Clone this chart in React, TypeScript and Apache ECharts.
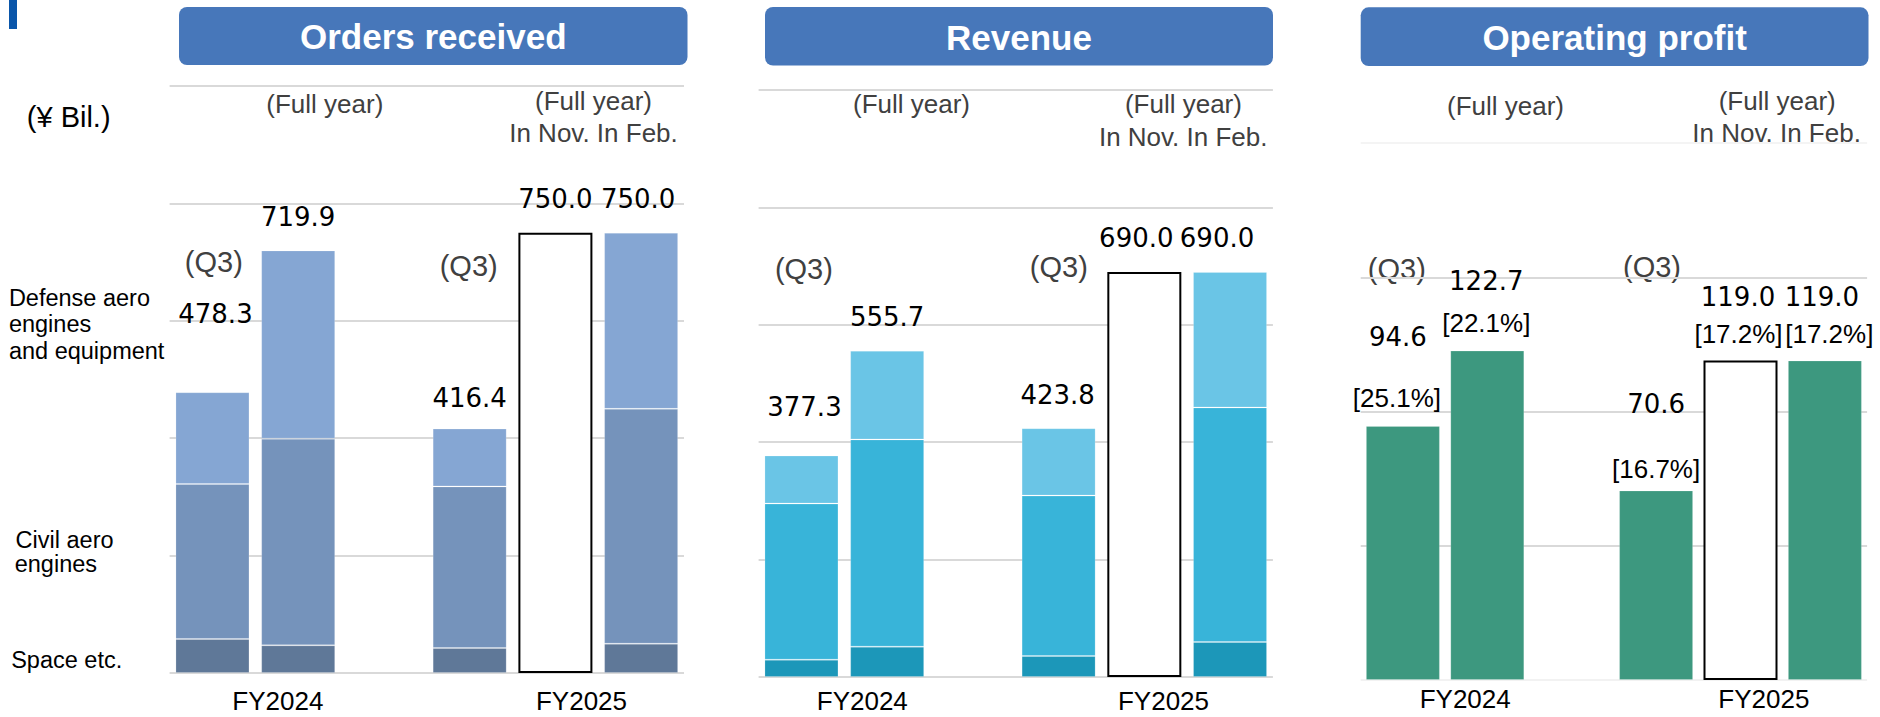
import React, { useEffect, useRef } from 'react';
import * as echarts from 'echarts';

// ---------- data ----------
const slots = ['FY2024 Q3', 'FY2024 Full year', '', 'FY2025 Q3', 'FY2025 Forecast (Nov.)', 'FY2025 Forecast (Feb.)'];
const fiscalYears = ['FY2024', 'FY2025'];
const panelTitles = ['Orders received', 'Revenue', 'Operating profit'];
const unitLabel = '(¥ Bil.)';
const fullYearText = '(Full year)';
const forecastHeaderText = 'In Nov. In Feb.';
const q3Text = '(Q3)';
const segmentLabelLines = [['Defense aero', 'engines', 'and equipment'], ['Civil aero', 'engines'], ['Space etc.']];

// Orders received (¥ Bil.)
const ordersSpace = [58.0, 47.2, null, 42.6, null, 50.0];
const ordersCivil = [264.0, 352.0, null, 275.3, null, 400.0];
const ordersDefense = [156.3, 320.7, null, 98.5, null, 300.0];
const ordersNovForecast = [null, null, null, null, 750.0, null];
const ordersTotal = [478.3, 719.9, null, 416.4, 750.0, 750.0];

// Revenue (¥ Bil.)
const revenueSpace = [29.5, 51.7, null, 35.8, null, 59.7];
const revenueCivil = [266.0, 353.0, null, 273.3, null, 399.5];
const revenueDefense = [81.8, 151.0, null, 114.7, null, 230.8];
const revenueNovForecast = [null, null, null, null, 690.0, null];
const revenueTotal = [377.3, 555.7, null, 423.8, 690.0, 690.0];

// Operating profit (¥ Bil.) and margin
const profitActual = [94.6, 122.7, null, 70.6, null, 119.0];
const profitNovForecast = [null, null, null, null, 119.0, null];
const profitTotal = [94.6, 122.7, null, 70.6, 119.0, 119.0];
const profitMargin = ['25.1%', '22.1%', null, '16.7%', '17.2%', '17.2%'];

const yMax = [1000, 1000, 200];
const yStep = [200, 200, 50];

// ---------- layout / style ----------
const GRIDS = [
  { left: 169.6, top: 86, width: 514.4, height: 587 },
  { left: 758.6, top: 90, width: 514.3, height: 587 },
  { left: 1360.7, top: 143, width: 506.4, height: 537 },
];
const titleBoxes = [
  { x: 179, y: 7, w: 508.5, h: 58, ty: 36 },
  { x: 765, y: 7, w: 508, h: 58.5, ty: 37 },
  { x: 1360.7, y: 7.3, w: 507.8, h: 58.7, ty: 37.5 },
];
const fullYearPos = [
  [[324.8, 103.8], [593.5, 100.5]],
  [[911.5, 103.5], [1183.4, 103.5]],
  [[1505.5, 105.5], [1777.2, 100.5]],
];
const forecastHeaderPos = [[593.5, 133], [1183.2, 136.5], [1776.6, 132.5]];
const q3Pos = [
  [[213.8, 262], [468.7, 265.6]],
  [[803.9, 269], [1058.8, 267]],
  [[1396.8, 269], [1652, 267]],
];
const fyPos = [
  [[277.9, 700.5], [581.5, 700.5]],
  [[862.3, 701], [1163.5, 701]],
  [[1465.2, 699.3], [1763.9, 699.3]],
];
const segmentLinePos = [
  [[8.9, 298], [8.9, 323.6], [8.9, 351]],
  [[15.6, 540.2], [14.7, 564]],
  [[11.2, 660.4]],
];
const valueOffsets = [
  [[3, -78], [0, -33], null, [0, -31], [0, -34], [-3, -34]],
  [[3, -48.5], [0, -34], null, [-1, -33], [-8, -34], [-13, -34]],
  [[-5, -88.7], [-1, -69.5], null, [0, -86.4], [-2.5, -63], [-3, -63]],
];
const marginOffsets = [[-6, -28.3], [-1, -27.3], null, [0, -21], [-2, -26.3], [4.4, -26.3]];

const ARIAL = '"Liberation Sans", Arial, sans-serif';
const NUMFONT = '"DejaVu Sans", Verdana, sans-serif';
const GRAY_TEXT = '#404040';
const GRID_LINE = '#d9d9d9';
const TITLE_BG = '#4777ba';
const ORDERS_COLORS = ['#5f7898', '#7593bb', '#85a6d3'];
const REVENUE_COLORS = ['#1c97b9', '#38b4d9', '#6ac5e6'];
const PROFIT_COLOR = '#3d987f';
const BAR_W = 74;

function textEl(text: string, x: number, y: number, font: string, fill: string, align = 'center') {
  return {
    type: 'text',
    x,
    y,
    silent: true,
    style: { text, font, fill, align, textAlign: align, verticalAlign: 'middle', textVerticalAlign: 'middle' },
  };
}

function barSeries(panel: number, name: string, data: (number | null)[], color: string) {
  return {
    type: 'bar',
    name,
    xAxisIndex: panel,
    yAxisIndex: panel,
    stack: 'p' + panel,
    barWidth: BAR_W,
    data,
    itemStyle: { color, borderColor: 'rgba(255,255,255,0.18)', borderWidth: 1 },
    silent: true,
  };
}

function outlineSeries(panel: number, data: (number | null)[]) {
  return {
    type: 'bar',
    name: 'Forecast (Nov.)',
    xAxisIndex: panel,
    yAxisIndex: panel,
    stack: 'p' + panel,
    barWidth: BAR_W,
    data,
    itemStyle: { color: '#ffffff', borderColor: '#000000', borderWidth: 2 },
    silent: true,
  };
}

function labelSeries(
  panel: number,
  values: (number | null)[],
  texts: (string | null)[],
  offsets: (number[] | null)[],
  font: string,
  color: string
) {
  const data: number[][] = [];
  values.forEach((v, i) => {
    if (v != null && texts[i] != null) data.push([i, v]);
  });
  return {
    type: 'custom',
    xAxisIndex: panel,
    yAxisIndex: panel,
    silent: true,
    z: 10,
    encode: { x: 0, y: 1 },
    data,
    renderItem: (_params: any, api: any) => {
      const idx = api.value(0);
      const pt = api.coord([idx, api.value(1)]);
      const off = offsets[idx] || [0, 0];
      return {
        type: 'text',
        x: pt[0] + off[0],
        y: pt[1] + off[1],
        style: {
          text: texts[idx],
          font,
          fill: color,
          align: 'center',
          textAlign: 'center',
          verticalAlign: 'middle',
          textVerticalAlign: 'middle',
        },
      };
    },
  };
}

const fmt = (arr: (number | null)[]) => arr.map((v) => (v == null ? null : v.toFixed(1)));

export default function App() {
  const ref = useRef<HTMLDivElement>(null);

  useEffect(() => {
    if (!ref.current) return;
    const chart = echarts.init(ref.current, null, { renderer: 'svg' });

    const graphics: any[] = [];
    graphics.push({ type: 'rect', silent: true, shape: { x: 9, y: 0, width: 8, height: 29 }, style: { fill: '#0a56aa' } });
    titleBoxes.forEach((b, i) => {
      graphics.push({ type: 'rect', silent: true, shape: { x: b.x, y: b.y, width: b.w, height: b.h, r: 8 }, style: { fill: TITLE_BG } });
      graphics.push(textEl(panelTitles[i], b.x + b.w / 2, b.ty, `bold 35px ${ARIAL}`, '#ffffff'));
    });
    graphics.push(textEl(unitLabel, 26.8, 116.6, `29px ${ARIAL}`, '#000000', 'left'));
    segmentLabelLines.forEach((lines, g) => {
      lines.forEach((line, k) => {
        const p = segmentLinePos[g][k];
        graphics.push(textEl(line, p[0], p[1], `23.5px ${ARIAL}`, '#000000', 'left'));
      });
    });
    for (let p = 0; p < 3; p++) {
      fullYearPos[p].forEach((pos) => graphics.push(textEl(fullYearText, pos[0], pos[1], `26px ${ARIAL}`, GRAY_TEXT)));
      graphics.push(textEl(forecastHeaderText, forecastHeaderPos[p][0], forecastHeaderPos[p][1], `26px ${ARIAL}`, GRAY_TEXT));
      q3Pos[p].forEach((pos) => graphics.push(textEl(q3Text, pos[0], pos[1], `29px ${ARIAL}`, GRAY_TEXT)));
      fyPos[p].forEach((pos, k) => graphics.push(textEl(fiscalYears[k], pos[0], pos[1], `26px ${ARIAL}`, '#000000')));
    }

    const xAxes = GRIDS.map((_, i) => ({
      type: 'category',
      gridIndex: i,
      data: slots,
      axisLine: { show: false },
      axisTick: { show: false },
      axisLabel: { show: false },
    }));
    const yAxes = GRIDS.map((_, i) => ({
      type: 'value',
      gridIndex: i,
      min: 0,
      max: yMax[i],
      interval: yStep[i],
      axisLine: { show: false },
      axisTick: { show: false },
      axisLabel: { show: false },
      splitLine: {
        show: true,
        lineStyle: {
          width: 2,
          color: i === 2 ? ['#f2f2f2', GRID_LINE, GRID_LINE, GRID_LINE, '#f4f4f4'] : GRID_LINE,
        },
      },
    }));

    const marginTexts = profitMargin.map((m) => (m == null ? null : `[${m}]`));

    const series: any[] = [
      barSeries(0, 'Space etc.', ordersSpace, ORDERS_COLORS[0]),
      barSeries(0, 'Civil aero engines', ordersCivil, ORDERS_COLORS[1]),
      barSeries(0, 'Defense aero engines and equipment', ordersDefense, ORDERS_COLORS[2]),
      outlineSeries(0, ordersNovForecast),
      labelSeries(0, ordersTotal, fmt(ordersTotal), valueOffsets[0], `26px ${NUMFONT}`, '#000000'),

      barSeries(1, 'Space etc.', revenueSpace, REVENUE_COLORS[0]),
      barSeries(1, 'Civil aero engines', revenueCivil, REVENUE_COLORS[1]),
      barSeries(1, 'Defense aero engines and equipment', revenueDefense, REVENUE_COLORS[2]),
      outlineSeries(1, revenueNovForecast),
      labelSeries(1, revenueTotal, fmt(revenueTotal), valueOffsets[1], `26px ${NUMFONT}`, '#000000'),

      barSeries(2, 'Operating profit', profitActual, PROFIT_COLOR),
      outlineSeries(2, profitNovForecast),
      labelSeries(2, profitTotal, fmt(profitTotal), valueOffsets[2], `26px ${NUMFONT}`, '#000000'),
      labelSeries(2, profitTotal, marginTexts, marginOffsets, `26px ${ARIAL}`, '#000000'),
    ];

    chart.setOption({
      animation: false,
      backgroundColor: '#ffffff',
      grid: GRIDS.map((g) => ({ left: g.left, top: g.top, width: g.width, height: g.height, containLabel: false })),
      xAxis: xAxes,
      yAxis: yAxes,
      series,
      graphic: { elements: graphics },
    });

    return () => chart.dispose();
  }, []);

  return (
    <div
      ref={ref}
      style={{ position: 'absolute', left: 0, top: 0, width: '1880px', height: '717px', background: '#fff' }}
    />
  );
}
